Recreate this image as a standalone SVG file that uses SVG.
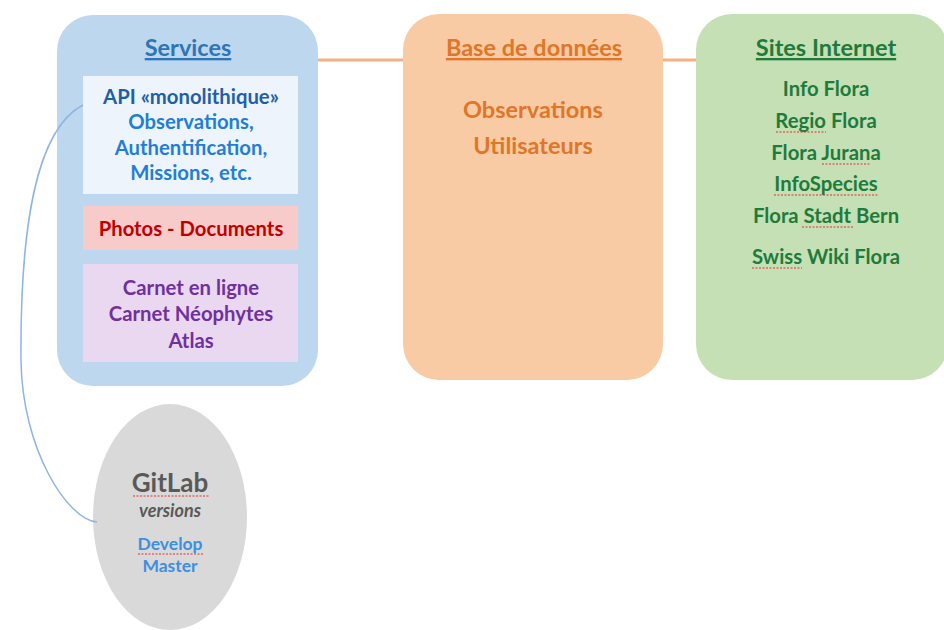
<svg xmlns="http://www.w3.org/2000/svg" width="944" height="630" viewBox="0 0 944 630">
<style>
text{font-family:Lato,"Open Sans","Liberation Sans",sans-serif;font-weight:bold;text-anchor:middle}
.t{font-size:23.5px}
.b{font-size:20.3px}
.sq{fill:none;stroke:#e03030;stroke-width:1;stroke-dasharray:2 1.5}
</style>
<rect width="944" height="630" fill="#ffffff"/>
<g id="services">
<rect x="57" y="15" width="261" height="371" rx="36" fill="#bdd7ee"/>
<text x="188" y="56" class="t" fill="#2e75b6" text-decoration="underline">Services</text>
<g id="api">
<rect x="83" y="76" width="215" height="118" fill="#eef4fb"/>
<text x="191" y="104" class="b" fill="#1f5fa8">API «monolithique»</text>
<text x="191" y="129" class="b" fill="#1f7fd6">Observations,</text>
<text x="191" y="155" class="b" fill="#1f7fd6">Authentification,</text>
<text x="191" y="180" class="b" fill="#1f7fd6">Missions, etc.</text>
</g>
<g id="photos">
<rect x="83" y="206" width="215" height="44" fill="#f8cbcb"/>
<text x="191" y="236" class="b" fill="#c00000">Photos - Documents</text>
</g>
<g id="carnet">
<rect x="83" y="264" width="215" height="98" fill="#e9d8f0"/>
<text x="191" y="295" class="b" fill="#7030a0">Carnet en ligne</text>
<text x="191" y="321" class="b" fill="#7030a0">Carnet Néophytes</text>
<text x="191" y="348" class="b" fill="#7030a0">Atlas</text>
</g>
</g>
<g id="base">
<rect x="403" y="14" width="260" height="366" rx="36" fill="#f8cba5"/>
<text x="534" y="56" class="t" fill="#e07628" text-decoration="underline">Base de données</text>
<text x="533" y="118" class="t" fill="#e07628">Observations</text>
<text x="533" y="154" class="t" fill="#e07628">Utilisateurs</text>
</g>
<g id="sites">
<rect x="696" y="14" width="252" height="366" rx="36" fill="#c5e0b4"/>
<text x="826" y="56" class="t" fill="#1e7b3c" text-decoration="underline">Sites Internet</text>
<text x="826" y="96" class="b" fill="#1e7b3c">Info Flora</text>
<text x="826" y="128" class="b" fill="#1e7b3c">Regio Flora</text>
<text x="826" y="160" class="b" fill="#1e7b3c">Flora Jurana</text>
<text x="826" y="191" class="b" fill="#1e7b3c">InfoSpecies</text>
<text x="826" y="223" class="b" fill="#1e7b3c">Flora Stadt Bern</text>
<text x="826" y="264" class="b" fill="#1e7b3c">Swiss Wiki Flora</text>
<path class="sq" d="M776,132 L826,132"/>
<path class="sq" d="M822,164 L871,164"/>
<path class="sq" d="M774,195 L878,195"/>
<path class="sq" d="M802,227 L854,227"/>
<path class="sq" d="M752,268 L802,268"/>
</g>
<g id="gitlab">
<ellipse cx="170" cy="517" rx="77" ry="113" fill="#d9d9d9"/>
<text x="170" y="492" font-size="26" fill="#595959">GitLab</text>
<text x="170" y="517" font-size="18" font-style="italic" fill="#595959">versions</text>
<text x="170" y="550" font-size="17.5" fill="#3d8fe0">Develop</text>
<text x="170" y="572" font-size="17.5" fill="#3d8fe0">Master</text>
<path class="sq" d="M133,496 L210,496"/>
<path class="sq" d="M138,554 L203,554"/>
</g>
<g id="connectors">
<line x1="318" y1="60" x2="403" y2="60" stroke="#f4b183" stroke-width="3"/>
<line x1="663" y1="60" x2="696" y2="60" stroke="#f4b183" stroke-width="3"/>
<path d="M83,105 C35,130 20,230 21,360 C22,450 68,520 97,522" fill="none" stroke="#8fb4e3" stroke-width="1.5"/>
</g>
</svg>
